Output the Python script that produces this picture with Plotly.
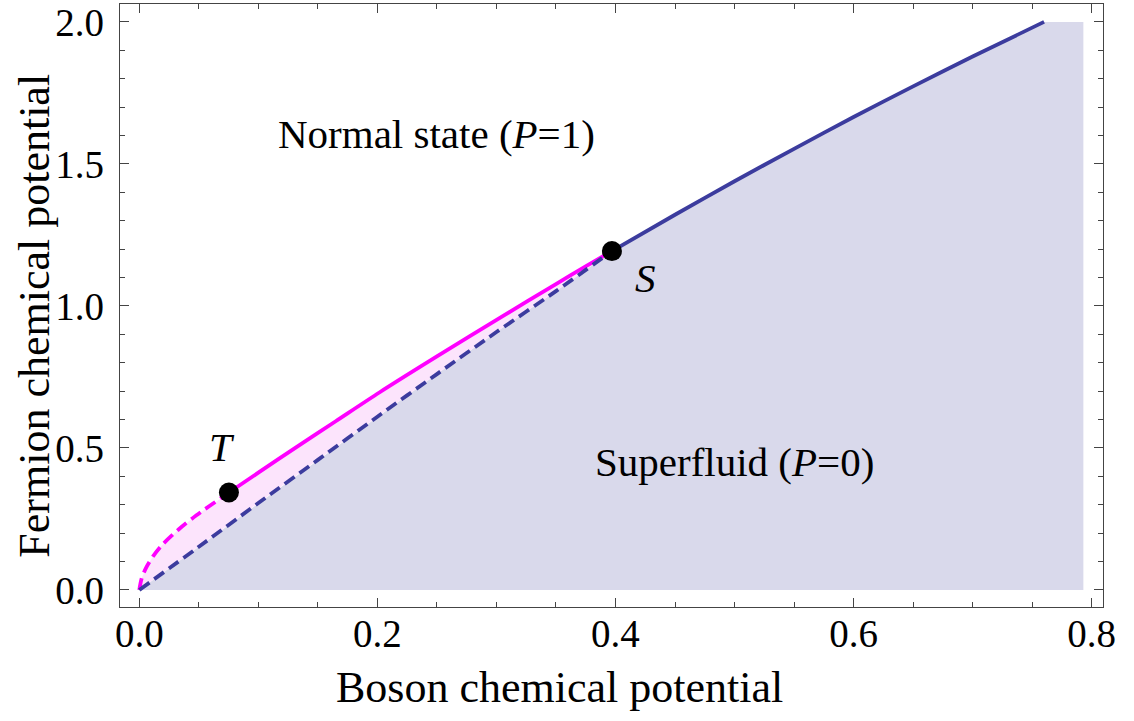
import plotly.graph_objects as go

# Phase boundary data (boson chemical potential, fermion chemical potential)
# Dashed boundary from the origin up to S
lower_x = [0.0, 0.05, 0.10, 0.15, 0.20, 0.25, 0.30, 0.35, 0.397]
lower_y = [0.0, 0.152, 0.306, 0.458, 0.610, 0.760, 0.908, 1.052, 1.193]

# Solid boundary beyond S
upper_x = [0.397, 0.45, 0.50, 0.55, 0.60, 0.65, 0.70, 0.76]
upper_y = [1.193, 1.321, 1.439, 1.553, 1.665, 1.773, 1.878, 2.000]

# Magenta branch from the origin through T to S
mag_x = [0.0, 0.002, 0.006, 0.012, 0.020, 0.033, 0.048, 0.0753, 0.100, 0.132,
         0.165, 0.202, 0.250, 0.306, 0.350, 0.376, 0.397]
mag_y = [0.0, 0.041, 0.080, 0.121, 0.162, 0.213, 0.263, 0.343, 0.413, 0.503,
         0.594, 0.696, 0.822, 0.966, 1.077, 1.142, 1.193]

# Special points
point_T = (0.0753, 0.343)
point_S = (0.397, 1.193)

# Extent of the superfluid shading
fill_right = 0.793
fill_top = 2.0

BLUE = "rgb(60,60,158)"
MAGENTA = "rgb(255,0,255)"
FONT = "Liberation Serif"
DASH = "12px,6px"
LW = 3.8

fig = go.Figure()

# Superfluid region (P=0)
sf_x = lower_x + upper_x[1:] + [fill_right, fill_right, 0.0]
sf_y = lower_y + upper_y[1:] + [fill_top, 0.0, 0.0]
fig.add_trace(go.Scatter(x=sf_x, y=sf_y, mode="lines", fill="toself",
                         fillcolor="rgb(217,217,235)", line=dict(width=0),
                         hoverinfo="skip", showlegend=False))

# Sliver between the magenta branch and the dashed boundary
pk_x = mag_x + lower_x[::-1]
pk_y = mag_y + lower_y[::-1]
fig.add_trace(go.Scatter(x=pk_x, y=pk_y, mode="lines", fill="toself",
                         fillcolor="rgb(252,228,252)", line=dict(width=0),
                         hoverinfo="skip", showlegend=False))

# Magenta branch: dashed up to T, solid from T to S
split = mag_x.index(point_T[0])
fig.add_trace(go.Scatter(x=mag_x[:split + 1], y=mag_y[:split + 1], mode="lines",
                         line=dict(color=MAGENTA, width=LW, dash=DASH,
                                   shape="spline", smoothing=0.8),
                         showlegend=False))
fig.add_trace(go.Scatter(x=mag_x[split:], y=mag_y[split:], mode="lines",
                         line=dict(color=MAGENTA, width=LW, shape="spline",
                                   smoothing=0.8),
                         showlegend=False))

# Blue boundary: dashed to S, solid beyond
fig.add_trace(go.Scatter(x=lower_x, y=lower_y, mode="lines",
                         line=dict(color=BLUE, width=LW, dash=DASH,
                                   shape="spline", smoothing=0.8),
                         showlegend=False))
fig.add_trace(go.Scatter(x=upper_x, y=upper_y, mode="lines",
                         line=dict(color=BLUE, width=LW, shape="spline",
                                   smoothing=0.8),
                         showlegend=False))

# Points T and S
fig.add_trace(go.Scatter(x=[point_T[0], point_S[0]], y=[point_T[1], point_S[1]],
                         mode="markers", marker=dict(color="black", size=20),
                         showlegend=False))

label_font = dict(family=FONT, size=41, color="black")
labels = [
    (0.250, 1.604, "Normal state (<i>P</i>=1)"),
    (0.500, 0.449, "Superfluid (<i>P</i>=0)"),
    (0.4256, 1.098, "<i>S</i>"),
    (0.0695, 0.502, "<i>T</i>"),
]
for lx, ly, lt in labels:
    fig.add_annotation(x=lx, y=ly, text=lt, showarrow=False, font=label_font,
                       xanchor="center", yanchor="middle")

# Axis titles
title_font = dict(family=FONT, size=44, color="black")
fig.add_annotation(xref="paper", yref="paper", x=0.4476, y=-0.134,
                   text="Boson chemical potential", showarrow=False,
                   font=title_font, xanchor="center", yanchor="middle")
fig.add_annotation(xref="paper", yref="paper", x=-0.0865, y=0.483,
                   text="Fermion chemical potential", showarrow=False,
                   font=title_font, xanchor="center", yanchor="middle",
                   textangle=-90)

axis_common = dict(showgrid=False, zeroline=False, showline=True,
                   linecolor="#444", linewidth=1.3, mirror="allticks",
                   ticks="inside", tickcolor="#444", tickwidth=1.3, ticklen=9,
                   ticklabeloverflow="allow",
                   tickfont=dict(family=FONT, size=39, color="black"))

fig.update_xaxes(range=[-0.0162, 0.8095], tickvals=[0.0, 0.2, 0.4, 0.6, 0.8],
                 ticktext=["0.0", "0.2", "0.4", "0.6", "0.8"],
                 minor=dict(ticks="inside", dtick=0.05, tick0=0, ticklen=5,
                            tickcolor="#444", tickwidth=1.1),
                 ticklabelstandoff=-8, **axis_common)
fig.update_yaxes(range=[-0.060, 2.063], tickvals=[0.0, 0.5, 1.0, 1.5, 2.0],
                 ticktext=["0.0", "0.5", "1.0", "1.5", "2.0"],
                 minor=dict(ticks="inside", dtick=0.1, tick0=0, ticklen=5,
                            tickcolor="#444", tickwidth=1.1),
                 ticklabelstandoff=7, **axis_common)

fig.update_layout(width=1134, height=721,
                  margin=dict(l=120, r=31, t=1, b=114),
                  plot_bgcolor="white", paper_bgcolor="white")

fig.write_html("out.html")
